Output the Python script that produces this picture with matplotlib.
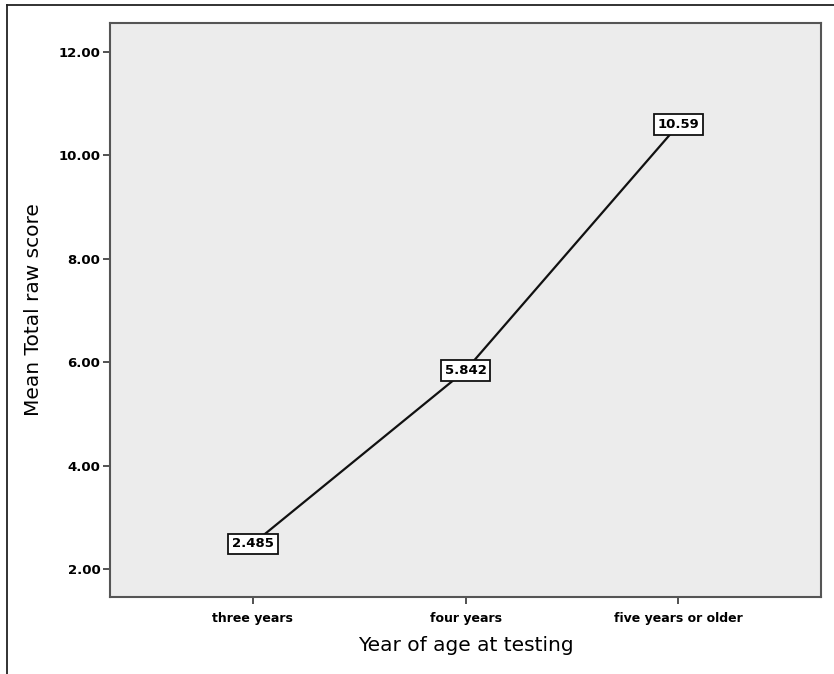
import matplotlib.pyplot as plt
from matplotlib.lines import Line2D

categories = ['three years', 'four years', 'five years or older']
means = [2.485, 5.842, 10.59]
point_labels = ['2.485', '5.842', '10.59']
y_ticks = [2, 4, 6, 8, 10, 12]

W, H = 834, 674
fig = plt.figure(figsize=(W / 100, H / 100), dpi=100)
ax = fig.add_axes([110 / W, 1 - 597 / H, (821 - 110) / W, (597 - 23) / H])
ax.set_facecolor('#ececec')

x = list(range(len(categories)))
ax.plot(x, means, color='#111111', lw=1.6, zorder=2)
for xi, yi, lab in zip(x, means, point_labels):
    ax.text(xi, yi, lab, ha='center', va='center', fontsize=9.5, fontweight='bold',
            family='DejaVu Sans', zorder=3,
            bbox=dict(boxstyle='square,pad=0.3', fc='white', ec='#111111', lw=1.3))

ax.set_xlim(-0.67, 2.67)
ax.set_ylim(1.46, 12.56)
ax.set_xticks(x)
ax.set_xticklabels(categories, fontsize=9, fontweight='bold', family='DejaVu Sans')
ax.set_yticks(y_ticks)
ax.set_yticklabels(['%.2f' % v for v in y_ticks], fontsize=9.5, fontweight='bold', family='DejaVu Sans')
ax.tick_params(direction='out', length=5, width=1.2, color='#333333')
ax.tick_params(axis='x', pad=6)
ax.tick_params(axis='y', pad=2)
for s in ax.spines.values():
    s.set_color('#555555')
    s.set_linewidth(1.5)

ax.set_ylabel('Mean Total raw score', fontsize=14.5, family='DejaVu Sans', labelpad=11)
ax.set_xlabel('Year of age at testing', fontsize=14.5, family='DejaVu Sans', labelpad=8)

# outer frame of the figure (left and top edges)
fig.add_artist(Line2D([7 / W, 7 / W], [0, 1 - 5 / H], color='#222222', lw=1.3))
fig.add_artist(Line2D([7 / W, 1], [1 - 5 / H, 1 - 5 / H], color='#222222', lw=1.3))

fig.savefig('out.png', dpi=100)
